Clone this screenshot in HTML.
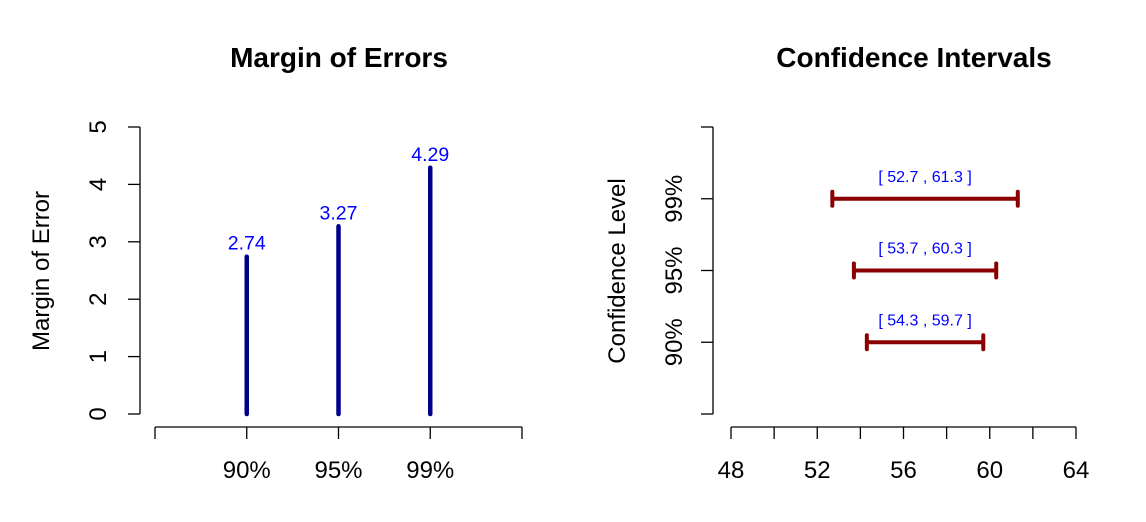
<!DOCTYPE html>
<html><head><meta charset="utf-8"><style>
body{margin:0;background:#fff}
svg{display:block;font-family:"Liberation Sans",Arial,sans-serif}
</style></head><body>
<svg id="c" width="1146" height="522"></svg>
<script>
const moeCategories = ["90%","95%","99%"];
const moeValues = [2.74,3.27,4.29];
const moeTicks = [0,1,2,3,4,5];
const ciLevels = ["90%","95%","99%"];
const ciLower = [54.3,53.7,52.7];
const ciUpper = [59.7,60.3,61.3];
const ciTicks = [48,50,52,54,56,58,60,62,64];
const ciTickLabels = [48,52,56,60,64];

const svg=document.getElementById('c');
const NS='http://www.w3.org/2000/svg';
function el(t,a,txt){const e=document.createElementNS(NS,t);for(const k in a)e.setAttribute(k,a[k]);if(txt!==undefined)e.textContent=txt;svg.appendChild(e);return e;}

const ly=v=>414-v*57.4;
const lx=i=>155+(i+1)*91.75;
let t=el('text',{x:339,y:67,'text-anchor':'middle','font-size':28,'font-weight':'bold'},'Margin of Errors');


t=el('text',{x:0,y:0,transform:'translate(49,271) rotate(-90)','text-anchor':'middle','font-size':24},'Margin of Error');


let a=el('line',{x1:140,y1:ly(0),x2:140,y2:ly(5),stroke:'#000','stroke-width':1.3});


moeTicks.forEach(v=>{
  el('line',{x1:128,y1:ly(v),x2:140,y2:ly(v),stroke:'#000','stroke-width':1.3});
  const tl=el('text',{x:0,y:0,transform:`translate(106,${ly(v)}) rotate(-90)`,'text-anchor':'middle','font-size':24},v);
  
  
});
a=el('line',{x1:155,y1:427,x2:522,y2:427,stroke:'#000','stroke-width':1.3});


for(let i=-1;i<=3;i++)el('line',{x1:lx(i),y1:427,x2:lx(i),y2:439,stroke:'#000','stroke-width':1.3});
moeCategories.forEach((c,i)=>{
  const tl=el('text',{x:lx(i),y:478,'text-anchor':'middle','font-size':24},c);
  
  
  const b=el('line',{x1:lx(i),y1:ly(0),x2:lx(i),y2:ly(moeValues[i]),stroke:'#00008B','stroke-width':4.5,'stroke-linecap':'round'});
  
  
  const vl=el('text',{x:lx(i),y:ly(moeValues[i])-7,'text-anchor':'middle','font-size':19.5,fill:'#0000FF'},moeValues[i].toFixed(2));
  
  
});

const rx=v=>731+(v-48)*345/16;
const ry=i=>414-(i+1)*71.75;
t=el('text',{x:914,y:67,'text-anchor':'middle','font-size':28,'font-weight':'bold'},'Confidence Intervals');


t=el('text',{x:0,y:0,transform:'translate(625,271) rotate(-90)','text-anchor':'middle','font-size':24},'Confidence Level');


a=el('line',{x1:713,y1:127,x2:713,y2:414,stroke:'#000','stroke-width':1.3});


for(let i=-1;i<=3;i++)el('line',{x1:701,y1:ry(i),x2:713,y2:ry(i),stroke:'#000','stroke-width':1.3});
a=el('line',{x1:rx(48),y1:427,x2:rx(64),y2:427,stroke:'#000','stroke-width':1.3});


ciTicks.forEach(v=>el('line',{x1:rx(v),y1:427,x2:rx(v),y2:439,stroke:'#000','stroke-width':1.3}));
ciTickLabels.forEach(v=>{
  const tl=el('text',{x:rx(v),y:478,'text-anchor':'middle','font-size':24},v);
  
  
});
ciLevels.forEach((c,i)=>{
  const y=ry(i);
  const tl=el('text',{x:0,y:0,transform:`translate(682,${y}) rotate(-90)`,'text-anchor':'middle','font-size':24},c);
  
  
  const g=document.createElementNS(NS,'g');
  
  
  svg.appendChild(g);
  [[rx(ciLower[i]),y,rx(ciUpper[i]),y],[rx(ciLower[i]),y-7,rx(ciLower[i]),y+7],[rx(ciUpper[i]),y-7,rx(ciUpper[i]),y+7]].forEach(p=>{
    const l=document.createElementNS(NS,'line');
    l.setAttribute('x1',p[0]);l.setAttribute('y1',p[1]);l.setAttribute('x2',p[2]);l.setAttribute('y2',p[3]);
    l.setAttribute('stroke','#8B0000');l.setAttribute('stroke-width',4);l.setAttribute('stroke-linecap','round');
    g.appendChild(l);
  });
  const mid=(ciLower[i]+ciUpper[i])/2;
  const vl=el('text',{x:rx(mid),y:y-17,'text-anchor':'middle','font-size':16,fill:'#0000FF','xml:space':'preserve'},`[ ${ciLower[i].toFixed(1)} ,  ${ciUpper[i].toFixed(1)} ]`);
  
  
});
</script>
</body></html>
